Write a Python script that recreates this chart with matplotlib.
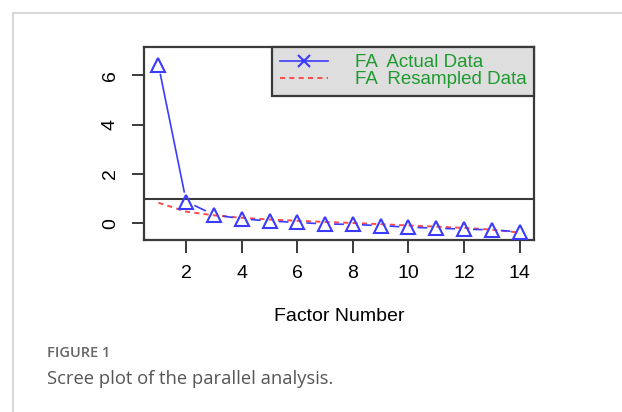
import numpy as np
import matplotlib
matplotlib.use("Agg")
import matplotlib.pyplot as plt
from matplotlib.collections import LineCollection
from matplotlib.lines import Line2D

# Eigenvalues
factors = np.arange(1, 15)
fa_actual = [6.42, 0.88, 0.34, 0.18, 0.09, 0.03, -0.03, -0.05, -0.10, -0.16, -0.20, -0.24, -0.27, -0.35]
fa_resampled = [0.83, 0.47, 0.32, 0.22, 0.15, 0.10, 0.05, 0.01, -0.04, -0.09, -0.14, -0.19, -0.26, -0.38]
x_ticks = [2, 4, 6, 8, 10, 12, 14]
y_ticks = [0, 2, 4, 6]

plt.rcParams['font.family'] = ['Liberation Sans', 'DejaVu Sans']

fig = plt.figure(figsize=(6.22, 4.12), dpi=100)
ax = fig.add_axes([0.2315, 0.4175, 0.627, 0.4692])
ax.set_xlim(0.48, 14.52)
ax.set_ylim(-0.68, 7.16)

blue = '#3b3bff'
red = '#ff4a4a'
frame = '#3a3a3a'

# horizontal reference line at eigenvalue 1
ax.axhline(1, color=frame, lw=1.5, zorder=1)

# resampled data, red dashed
ax.plot(factors, fa_resampled, color=red, lw=1.4, dashes=(2.6, 2.2), zorder=2)


# actual data drawn like R type="b": segments with gaps around the points
def gapped_segments(ax, x, y, gap=9.0):
    pts = ax.transData.transform(np.column_stack([x, y]))
    segs = []
    for p0, p1 in zip(pts[:-1], pts[1:]):
        d = p1 - p0
        L = np.hypot(*d)
        if L > 2 * gap:
            u = d / L
            seg = np.array([p0 + u * gap, p1 - u * gap])
            segs.append(ax.transData.inverted().transform(seg))
    return segs


segs = gapped_segments(ax, factors, fa_actual)
ax.add_collection(LineCollection(segs, colors=blue, linewidths=1.2, zorder=3))
ax.plot(factors, fa_actual, ls='none', marker='^', ms=10.5, mfc='none',
        mec=blue, mew=1.5, zorder=4)

# axes styling
for s in ax.spines.values():
    s.set_color(frame)
    s.set_linewidth(1.6)
ax.set_xticks(x_ticks)
ax.set_yticks(y_ticks)
ax.tick_params(axis='x', length=9, width=1.4, color=frame, pad=9, labelsize=14)
ax.tick_params(axis='y', length=9, width=1.4, color=frame, pad=9, labelsize=14,
               labelrotation=90)
for lab in ax.get_yticklabels():
    lab.set_va('center')
ax.set_xlabel('Factor Number', fontsize=14, labelpad=19)

handles = [Line2D([], [], color=blue, lw=1.2, marker='x', ms=8, mew=1.5),
           Line2D([], [], color=red, lw=1.4, dashes=(2.6, 2.2))]
leg = ax.legend(handles, ['FA  Actual Data', 'FA  Resampled Data'],
                loc='upper right', bbox_to_anchor=(1, 1), borderaxespad=0,
                fontsize=13.5, labelcolor='#1f9a2f', fancybox=False,
                facecolor='#dedede', edgecolor=frame, framealpha=1,
                handlelength=2.6, labelspacing=0.0, borderpad=0.4,
                handletextpad=1.4)
leg.get_frame().set_linewidth(1.6)

# card border and caption
fig.add_artist(Line2D([13 / 622, 13 / 622], [0, 1 - 13 / 412], color='#d0d0d0', lw=1.2,
                      transform=fig.transFigure))
fig.add_artist(Line2D([13 / 622, 1], [1 - 13 / 412, 1 - 13 / 412], color='#d0d0d0', lw=1.2,
                      transform=fig.transFigure))
fig.text(47 / 622, 1 - 353 / 412, 'FIGURE 1', fontsize=10.5, color='#666666',
         family=['Open Sans', 'DejaVu Sans'], fontweight='semibold', va='center')
fig.text(47 / 622, 1 - 379 / 412, 'Scree plot of the parallel analysis.', fontsize=13.2,
         color='#555555', family=['Open Sans', 'DejaVu Sans'], va='center')

fig.savefig('out.png', dpi=100)
